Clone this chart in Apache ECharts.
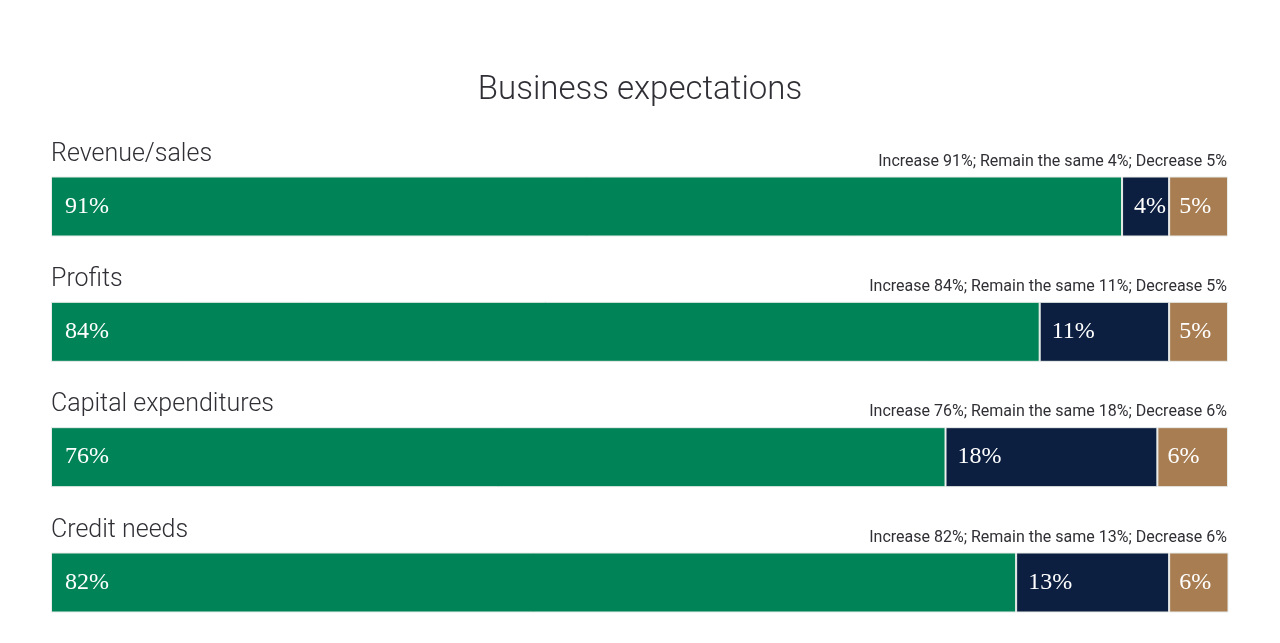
<!DOCTYPE html>
<html lang="en">
<head>
    <meta charset="UTF-8">
    <title>Business expectations</title>
    <style>
        html, body { margin: 0; padding: 0; background: #fff; }
        #chart { width: 1280px; height: 643px; }
    </style>
</head>
<body>
    <div id="chart"></div>
    <script src="https://cdn.jsdelivr.net/npm/echarts@6/dist/echarts.min.js"></script>
    <script>
    var categories = ['Revenue/sales', 'Profits', 'Capital expenditures', 'Credit needs'];
    var increase = [91, 84, 76, 82];
    var same = [4, 11, 18, 13];
    var decrease = [5, 5, 6, 6];

    var chart = echarts.init(document.getElementById('chart'));
    var sans = 'Roboto';
    var serif = 'Liberation Serif';

    function segLabel(dist) {
        return {
            show: true,
            position: 'insideLeft',
            distance: dist,
            formatter: '{c}%',
            color: '#fff',
            fontFamily: serif,
            fontSize: 24
        };
    }

    var option = {
        backgroundColor: '#fff',
        animation: false,
        title: {
            text: 'Business expectations',
            left: 'center',
            top: 69,
            textStyle: { fontFamily: sans, fontWeight: 300, fontSize: 33, color: '#2f2f35' }
        },
        // category centres sit on the grid edges (boundaryGap false)
        grid: { left: 51, right: 52, top: 206.5, bottom: 60.5 },
        xAxis: { type: 'value', min: 0, max: 100, show: false },
        yAxis: {
            type: 'category',
            data: categories,
            inverse: true,
            boundaryGap: false,
            show: false
        },
        series: [
            {
                name: 'Increase', type: 'bar', stack: 'all', barWidth: 60,
                data: increase,
                itemStyle: { color: '#008457', borderColor: '#e8ece9', borderWidth: 1 },
                label: segLabel(14)
            },
            {
                name: 'Remain the same', type: 'bar', stack: 'all', barWidth: 60,
                data: same,
                itemStyle: { color: '#0c1f41', borderColor: '#e8ece9', borderWidth: 1 },
                label: segLabel(12)
            },
            {
                name: 'Decrease', type: 'bar', stack: 'all', barWidth: 60,
                data: decrease,
                itemStyle: { color: '#a87d52', borderColor: '#e8ece9', borderWidth: 1 },
                label: segLabel(10)
            }
        ]
    };
    chart.setOption(option);

    // row headings and summaries, placed from the axis scales
    var texts = [];
    for (var i = 0; i < categories.length; i++) {
        var left = chart.convertToPixel({ gridIndex: 0 }, [0, i]);
        var right = chart.convertToPixel({ gridIndex: 0 }, [100, i]);
        var barTop = left[1] - 30;
        texts.push({
            type: 'text', x: left[0], y: barTop - 22,
            style: {
                text: categories[i], fontFamily: sans, fontWeight: 300, fontSize: 25,
                fill: '#2f2f35', align: 'left', verticalAlign: 'middle'
            }
        });
        texts.push({
            type: 'text', x: right[0] - 1, y: barTop - 15,
            style: {
                text: 'Increase ' + increase[i] + '%; Remain the same ' + same[i] + '%; Decrease ' + decrease[i] + '%',
                fontFamily: sans, fontSize: 16, fill: '#2f2f35', align: 'right', verticalAlign: 'middle'
            }
        });
    }
    chart.setOption({ graphic: texts });
    </script>
</body>
</html>
